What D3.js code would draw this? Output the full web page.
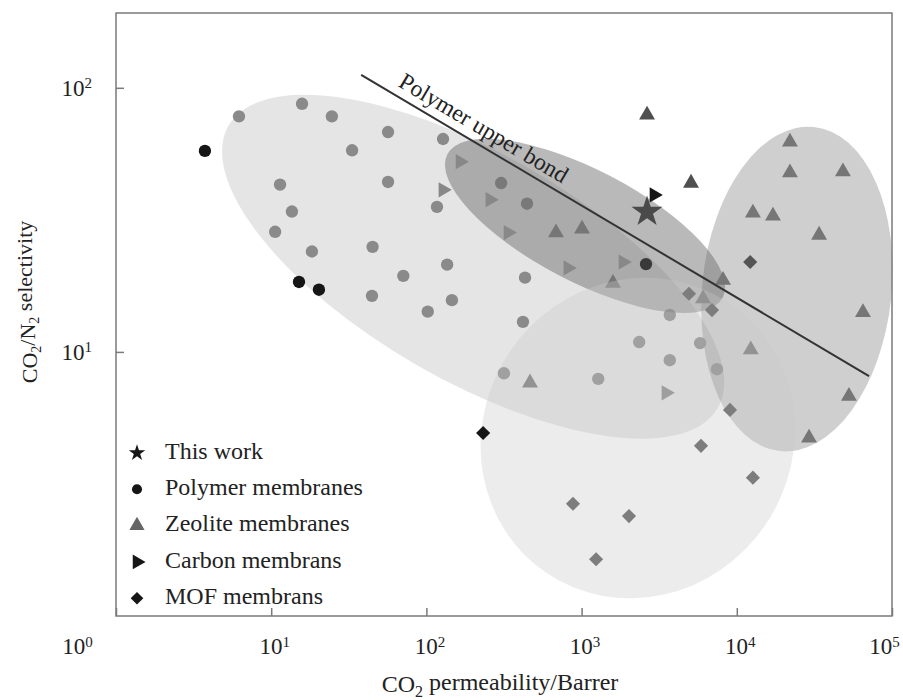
<!DOCTYPE html>
<html lang="en">
<head>
<meta charset="UTF-8" />
<title>CO2/N2 selectivity vs CO2 permeability</title>
<style>
  body { margin: 0; background: #fff; }
  svg { display: block; font-family: "Liberation Serif", "Times New Roman", serif; }
</style>
</head>
<body>
<svg id="chart" width="903" height="700"></svg>
<script src="https://d3js.org/d3.v7.min.js"></script>
<script>
  // values: [CO2 permeability / Barrer, CO2/N2 selectivity]
  const polymerGray = [
    [6.2, 78], [15.8, 87], [24.6, 78], [56.6, 68], [33.2, 58], [128, 64],
    [11.4, 43], [56.6, 44], [13.6, 34], [10.6, 28.5], [18.3, 24], [45, 25],
    [117, 35.4], [71, 19.4], [44.6, 16.3], [102, 14.2], [136, 21.4], [146, 15.7],
    [303, 43.6], [445, 36.4], [432, 19.1], [419, 13], [3700, 13.8], [2350, 10.9],
    [5800, 10.8], [3700, 9.3], [7450, 8.6], [316, 8.3], [1280, 7.9]
  ];
  const polymerBlack = [[3.74, 57.7], [15.1, 18.4], [20.3, 17.2], [2600, 21.5]];

  const zeolite = [
    [22000, 62.4], [22000, 47.7], [48300, 48.1], [12700, 33.6], [17100, 32.7],
    [33900, 27.7], [65000, 14.1], [12300, 10.2], [52800, 6.8], [29200, 4.72],
    [8150, 18.7], [6060, 15.9], [684, 28.3], [1006, 29.2], [1593, 18.2], [465, 7.64]
  ];
  const zeoliteDark = [[2640, 79], [5070, 43.6]];

  const carbon = [[165, 52.5], [128, 41.1], [257, 37.7], [336, 28.3], [817, 20.8], [1850, 21.9], [3500, 7.0]];
  const carbonBlack = [[2930, 39.3]];

  const mof = [
    [12200, 21.9], [4920, 16.6], [6920, 14.4], [9040, 6.03], [5880, 4.41],
    [12700, 3.34], [880, 2.66], [2020, 2.39], [1240, 1.64]
  ];
  const mofBlack = [[232, 4.93]];

  const thisWork = [[2640, 33.9]];

  const upperBound = [[38, 112], [71100, 8.1]];

  // shaded regions: centre in data units, half axes in decades of x
  const regionNames = ["polymer", "zeolite", "carbon", "mof"];
  const regionCentres = [[200, 21.0], [24400, 17.3], [1052, 30.0], [2300, 4.72]];
  const regionHalfAxes = [[1.82, 0.73], [0.61, 1.05], [1.0, 0.36], [1.05, 0.995]];
  const regionTilt = [30, 6, 27.5, -56];

  const xTicks = [1, 10, 100, 1e3, 1e4, 1e5];
  const yTicks = [10, 100];
  const legendLabels = ["This work", "Polymer membranes", "Zeolite membranes", "Carbon membrans", "MOF membrans"];

  const w = 903, h = 700;
  const plot = { left: 116, right: 892, top: 13, bottom: 616 };

  const xScale = d3.scaleLog().domain([1, 1e5]).range([plot.left, plot.right]);
  const yScale = d3.scaleLog().domain([1, 192]).range([plot.bottom, plot.top]);
  const decade = xScale(10) - xScale(1);

  const svg = d3.select("#chart").attr("viewBox", `0 0 ${w} ${h}`);
  svg.append("rect").attr("width", w).attr("height", h).attr("fill", "#fff");

  const regionStyle = {
    polymer: { fill: "#000", opacity: 0.1 },
    zeolite: { fill: "#000", opacity: 0.19 },
    carbon: { fill: "rgb(100,100,100)", opacity: 0.45 },
    mof: { fill: "rgb(200,200,200)", opacity: 0.35 }
  };

  function region(name) {
    const i = regionNames.indexOf(name);
    const c = regionCentres[i];
    svg.append("ellipse")
      .attr("transform", `translate(${xScale(c[0])},${yScale(c[1])}) rotate(${regionTilt[i]})`)
      .attr("rx", regionHalfAxes[i][0] * decade)
      .attr("ry", regionHalfAxes[i][1] * decade)
      .attr("fill", regionStyle[name].fill)
      .attr("fill-opacity", regionStyle[name].opacity);
  }

  function marks(data, type, size, color, rotate) {
    svg.append("g")
      .selectAll("path")
      .data(data)
      .enter()
      .append("path")
      .attr("d", d3.symbol().type(type).size(size))
      .attr("transform", (d) => `translate(${xScale(d[0])},${yScale(d[1])}) rotate(${rotate || 0})`)
      .attr("fill", color);
  }

  region("polymer");
  region("zeolite");
  marks(polymerGray, d3.symbolCircle, 120, "#8a8a8a");
  marks(polymerBlack, d3.symbolCircle, 120, "#161616");
  region("carbon");
  marks(zeolite, d3.symbolTriangle, 110, "#767676");
  marks(zeoliteDark, d3.symbolTriangle, 110, "#4f4f4f");
  marks(carbon, d3.symbolTriangle, 100, "#888888", 90);
  marks(mof, d3.symbolSquare, 100, "#555555", 45);
  region("mof");
  marks(carbonBlack, d3.symbolTriangle, 100, "#161616", 90);
  marks(mofBlack, d3.symbolSquare, 100, "#161616", 45);
  marks(thisWork, d3.symbolStar, 300, "#4a4a4a");

  // polymer upper bound
  const p0 = [xScale(upperBound[0][0]), yScale(upperBound[0][1])];
  const p1 = [xScale(upperBound[1][0]), yScale(upperBound[1][1])];
  svg.append("line")
    .attr("x1", p0[0]).attr("y1", p0[1])
    .attr("x2", p1[0]).attr("y2", p1[1])
    .attr("stroke", "#333").attr("stroke-width", 2);

  const angle = Math.atan2(p1[1] - p0[1], p1[0] - p0[0]) * 180 / Math.PI;
  const t = 0.062;
  svg.append("text")
    .attr("transform", `translate(${p0[0] + t * (p1[0] - p0[0])},${p0[1] + t * (p1[1] - p0[1])}) rotate(${angle})`)
    .attr("dy", -9)
    .attr("font-size", 23.5)
    .attr("fill", "#222")
    .text("Polymer upper bond");

  // frame
  svg.append("rect")
    .attr("x", plot.left).attr("y", plot.top)
    .attr("width", plot.right - plot.left).attr("height", plot.bottom - plot.top)
    .attr("fill", "none").attr("stroke", "#7a7a7a").attr("stroke-width", 1.5);

  function powerLabel(sel) {
    sel.each(function (d) {
      const txt = d3.select(this).text(null);
      txt.append("tspan").text("10");
      txt.append("tspan")
        .attr("dy", "-0.5em")
        .attr("font-size", "15px")
        .text(Math.round(Math.log10(d)));
    });
  }

  const xAxis = d3.axisBottom(xScale).tickValues(xTicks).tickSize(-8).tickPadding(22).tickFormat(() => "");
  const gx = svg.append("g").attr("transform", `translate(0,${plot.bottom})`).call(xAxis);
  gx.select(".domain").remove();
  gx.attr("font-size", null).attr("font-family", null);
  gx.selectAll(".tick line").attr("stroke", "#7a7a7a").attr("stroke-width", 1.5);
  gx.selectAll(".tick text")
    .attr("font-size", 23).attr("fill", "#222")
    .attr("x", (d) => (d === 1 ? -39 : d === 1e5 ? -8 : 3))
    .call(powerLabel);

  const yAxis = d3.axisLeft(yScale).tickValues(yTicks).tickSize(-8).tickPadding(24).tickFormat(() => "");
  const gy = svg.append("g").attr("transform", `translate(${plot.left},0)`).call(yAxis);
  gy.select(".domain").remove();
  gy.attr("font-size", null).attr("font-family", null);
  gy.selectAll(".tick line").attr("stroke", "#7a7a7a").attr("stroke-width", 1.5);
  gy.selectAll(".tick text")
    .attr("font-size", 23).attr("fill", "#222")
    .call(powerLabel);

  // axis titles
  const xt = svg.append("text")
    .attr("x", 500).attr("y", 692)
    .attr("text-anchor", "middle")
    .attr("font-size", 24).attr("fill", "#222");
  xt.append("tspan").text("CO");
  xt.append("tspan").attr("dy", "0.3em").attr("font-size", "16px").text("2");
  xt.append("tspan").attr("dy", "-0.3em").text(" permeability/Barrer");

  const yt = svg.append("text")
    .attr("transform", "translate(37,302) rotate(-90)")
    .attr("text-anchor", "middle")
    .attr("font-size", 22).attr("fill", "#222");
  yt.append("tspan").text("CO");
  yt.append("tspan").attr("dy", "0.3em").attr("font-size", "14px").text("2");
  yt.append("tspan").attr("dy", "-0.3em").text("/N");
  yt.append("tspan").attr("dy", "0.3em").attr("font-size", "14px").text("2");
  yt.append("tspan").attr("dy", "-0.3em").text(" selectivity");

  // legend
  const legendSymbols = [
    { type: d3.symbolStar, size: 85, color: "#161616", rotate: 0 },
    { type: d3.symbolCircle, size: 80, color: "#161616", rotate: 0 },
    { type: d3.symbolTriangle, size: 100, color: "#666", rotate: 0 },
    { type: d3.symbolTriangle, size: 95, color: "#161616", rotate: 90 },
    { type: d3.symbolSquare, size: 80, color: "#161616", rotate: 45 }
  ];
  const legend = svg.append("g").attr("transform", "translate(137,453)");
  const rows = legend.selectAll("g")
    .data(legendLabels)
    .enter()
    .append("g")
    .attr("transform", (d, i) => `translate(0,${i * 36.3})`);
  rows.append("path")
    .attr("d", (d, i) => d3.symbol().type(legendSymbols[i].type).size(legendSymbols[i].size)())
    .attr("transform", (d, i) => `rotate(${legendSymbols[i].rotate})`)
    .attr("fill", (d, i) => legendSymbols[i].color);
  rows.append("text")
    .attr("x", 28).attr("dy", "0.24em")
    .attr("font-size", 24).attr("fill", "#222")
    .text((d) => d);
</script>
</body>
</html>
